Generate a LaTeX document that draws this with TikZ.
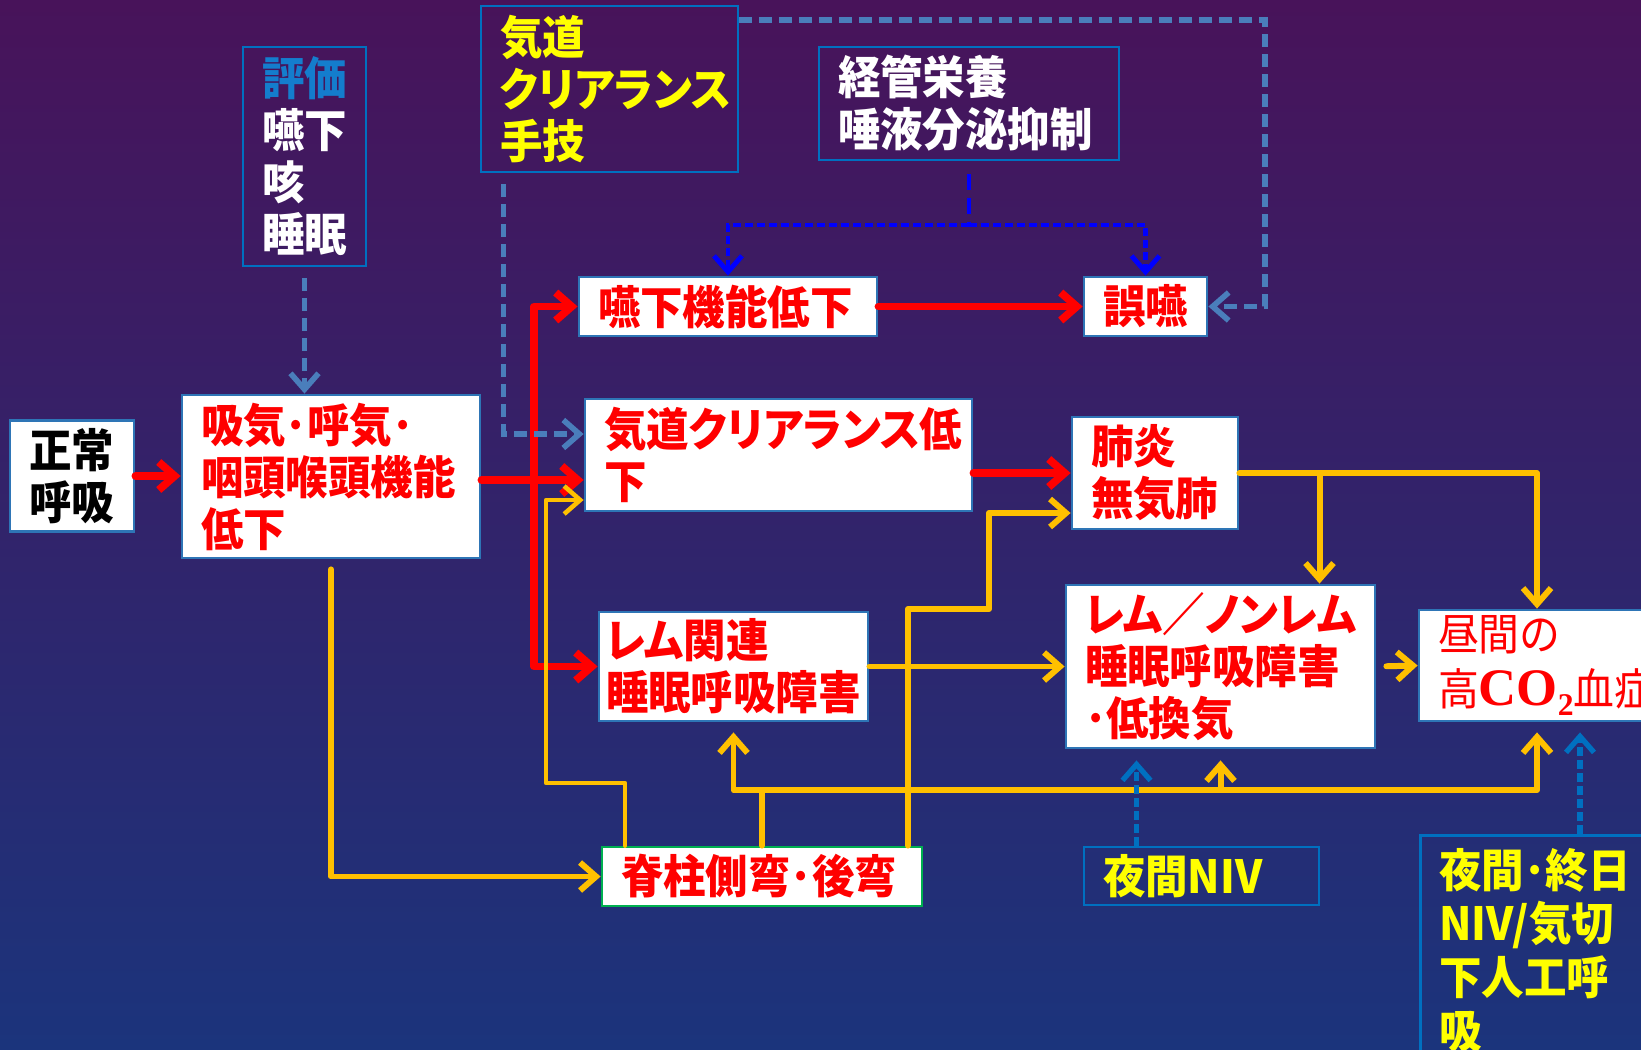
\documentclass[tikz,border=0pt]{standalone}
\usepackage{fontspec}
\usetikzlibrary{arrows.meta}

\newfontfamily\jp{Noto Sans CJK JP}[RawFeature=+palt, FakeStretch=0.93, BoldFont={Noto Sans CJK JP Black}]
\newfontfamily\tnr{Liberation Serif}

\definecolor{bgtop}{RGB}{72,19,90}
\definecolor{bgmid}{RGB}{42,30,104}
\definecolor{bgbot}{RGB}{27,52,124}
\definecolor{frameblue}{RGB}{0,112,192}
\definecolor{boxline}{RGB}{46,117,182}
\definecolor{steel}{RGB}{74,126,187}
\definecolor{amber}{RGB}{255,192,0}
\definecolor{boxgreen}{RGB}{0,176,80}
\definecolor{textyellow}{RGB}{255,255,0}
\definecolor{titleblue}{RGB}{20,125,205}

\tikzset{
  wbox/.style={draw=boxline, line width=0.8pt, fill=white, text=red,
    inner xsep=1.9mm, inner ysep=0pt, align=left,
    font=\jp\bfseries\fontsize{13}{14.8}\selectfont},
  dbox/.style={draw=frameblue, line width=0.8pt,
    inner xsep=1.9mm, inner ysep=0pt, align=left,
    font=\jp\bfseries\fontsize{13}{14.8}\selectfont},
  headtip/.style={-{Straight Barb[length=1.6mm,width=2.8mm]}},
  redarr/.style={headtip, draw=red, line width=2.2pt, line cap=round, line join=round},
  yline/.style={draw=amber, line width=1.7pt, line cap=round, line join=round},
  yarr/.style={yline, headtip},
  steelarr/.style={headtip, draw=steel, line width=1.6pt, dash pattern=on 1.3mm off 0.7mm},
  blueline/.style={draw=blue, line width=1.4pt, dash pattern=on 0.8mm off 0.4mm},
  bluearr/.style={blueline, headtip},
  nivarr/.style={headtip, draw=frameblue, line width=1.5pt, dash pattern=on 0.9mm off 0.4mm}
}

\begin{document}
\begin{tikzpicture}[x=0.1mm, y=-0.1mm]

    \useasboundingbox (0,0) rectangle (1641,1050);
    \shade[top color=bgtop, middle color=bgmid, bottom color=bgbot] (0,0) rectangle (1641,1050);
    \clip (0,0) rectangle (1641,1050);



    \node[wbox, text=black, minimum height=11.1mm, text width=8.6mm] (seijo) at (72,476) {正常\\呼吸};

    \node[wbox, minimum height=16.3mm, text width=26mm] (kinou) at (331,476.5) {吸気･呼気･\\咽頭喉頭機能\\低下};

    \node[dbox, text=white, minimum height=21.9mm, text width=8.5mm] (hyoka) at (304.5,156.5)
    {\textcolor{titleblue}{評価}\\嚥下\\咳\\睡眠};

    \node[dbox, text=textyellow, minimum height=16.6mm, text width=21.9mm] (shugi) at (609.5,89)
    {気道\\クリアランス\\手技};

    \node[dbox, text=white, minimum height=11.3mm, text width=26.2mm] (keikan) at (969,103.5)
    {経管栄養\\唾液分泌抑制};

    \node[wbox, minimum height=5.9mm, text width=26mm] (enge) at (728,306.5) {嚥下機能低下};

    \node[wbox, minimum height=5.9mm, text width=8.5mm] (goen) at (1145.5,306.5) {誤嚥};

    \node[wbox, minimum height=11.2mm, text width=34.9mm] (clear) at (778.5,455) {気道クリアランス低\\下};

    \node[wbox, minimum height=11.2mm, text width=12.8mm] (haien) at (1155,473) {肺炎\\無気肺};

    \node[wbox, inner xsep=0.7mm, minimum height=10.9mm, text width=25.5mm] (rem) at (733.5,666.5)
    {レム関連\\睡眠呼吸障害};

    \node[wbox, minimum height=16.3mm, text width=27.1mm] (nonrem) at (1220.5,666.5)
    {レム／ノンレム\\睡眠呼吸障害\\･低換気};

    \node[wbox, font=\jp\fontsize{12.5}{15.5}\selectfont, minimum height=11.1mm, text width=19.8mm] (co2) at (1537,665.5)
    {昼間の\\高{\tnr\bfseries\fontsize{15}{15}\selectfont CO\raisebox{-0.4ex}{\fontsize{9}{9}\selectfont 2}}血症};

    \node[wbox, draw=boxgreen, minimum height=5.9mm, text width=28.2mm] (sekichu) at (762,876.5) {脊柱側弯･後弯};

    \node[dbox, text=textyellow, minimum height=5.8mm, text width=19.7mm] (niv) at (1201.5,876) {夜間NIV};

    \node[dbox, text=textyellow, font=\jp\bfseries\fontsize{13}{15.3}\selectfont, anchor=north west,
      minimum height=23mm, text width=22mm] (shujitsu) at (1419,834)
    {夜間･終日\\NIV/気切\\下人工呼\\吸};



    \draw[redarr] (seijo.east) -- (seijo.east -| kinou.west);
    \coordinate (rj) at (534,480);
    \draw[redarr] (kinou.east |- rj) -- (rj -| clear.west);
    \draw[redarr] (rj) |- (enge.west);
    \draw[redarr] (rj) |- (rem.west);
    \draw[redarr] (enge.east) -- (goen.west);
    \draw[redarr] (haien.west -| clear.east) -- (haien.west);



    \draw[steelarr, shorten <=1.1mm] (hyoka.south) -- (hyoka.south |- kinou.north);
    \draw[steelarr] ([xshift=2.4mm,yshift=-1.1mm]shugi.south west) |- ([yshift=2.1mm]clear.west);
    \coordinate (sc) at (1265,20);
    \draw[steelarr] (shugi.east |- sc) -- (sc) |- (goen.east);



    \coordinate (kj) at (969,225);
    \draw[blueline, dash pattern=on 1.6mm off 0.8mm, shorten <=1.3mm] (keikan.south) -- (kj);
    \draw[bluearr] (kj) -| (enge.north);
    \draw[bluearr] (kj) -| (goen.north);



    \draw[yarr, shorten <=1mm] (kinou.south) |- (sekichu.west);
    \coordinate (yb) at (546,783);
    \draw[yarr, line width=1.3pt] ([xshift=-13.7mm]sekichu.north) |- (yb) |- ([yshift=-4.5mm]clear.west);
    \coordinate (yh) at (762,790);
    \draw[yline] (sekichu.north) -- (yh);
    \draw[yarr, shorten >=1mm] (yh) -| (rem.south);
    \draw[yarr, shorten >=1.1mm] (yh) -| (nonrem.south);
    \draw[yarr, shorten >=1mm] (yh) -| (co2.south);
    \coordinate (yd) at (989,609);
    \draw[yarr] ([xshift=14.6mm]sekichu.north) |- (yd) |- ([yshift=-4mm]haien.west);
    \draw[yarr] (rem.east) -- (nonrem.west);
    \draw[yarr] (haien.east) -| (co2.north);
    \coordinate (nb) at ([xshift=9.9mm]nonrem.north);
    \draw[yarr] (haien.east -| nb) -- (nb);
    \draw[yarr, shorten <=1mm] (nonrem.east) -- (co2.west);



    \coordinate (nv) at ([xshift=-6.5mm]niv.north);
    \draw[nivarr, shorten >=1.1mm] (nv) -- (nv |- nonrem.south);
    \coordinate (sj) at ([xshift=16.1mm]shujitsu.north west);
    \draw[nivarr, shorten >=1mm] (sj) -- (sj |- co2.south);

\end{tikzpicture}
\end{document}
